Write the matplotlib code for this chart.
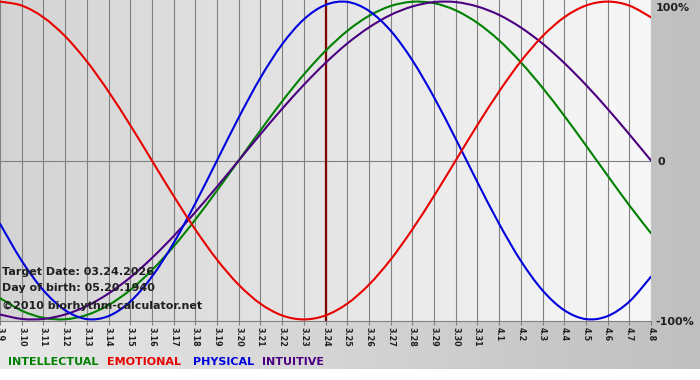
import numpy as np
import matplotlib
matplotlib.use("Agg")
import matplotlib.pyplot as plt
from matplotlib.path import Path
from matplotlib.patches import PathPatch

# ---- data ----
day_labels = ["3.9", "3.10", "3.11", "3.12", "3.13", "3.14", "3.15", "3.16", "3.17", "3.18",
              "3.19", "3.20", "3.21", "3.22", "3.23", "3.24", "3.25", "3.26", "3.27", "3.28",
              "3.29", "3.30", "3.31", "4.1", "4.2", "4.3", "4.4", "4.5", "4.6", "4.7", "4.8"]

physical = [-0.398, -0.631, -0.817, -0.942, -0.998, -0.979, -0.888, -0.731, -0.520, -0.270,
            0.000, 0.270, 0.520, 0.731, 0.888, 0.979, 0.998, 0.942, 0.817, 0.631,
            0.398, 0.136, -0.136, -0.398, -0.631, -0.817, -0.942, -0.998, -0.979, -0.888, -0.731]

emotional = [1.000, 0.975, 0.901, 0.782, 0.624, 0.434, 0.223, 0.000, -0.223, -0.434,
             -0.624, -0.782, -0.901, -0.975, -1.000, -0.975, -0.901, -0.782, -0.624, -0.434,
             -0.223, 0.000, 0.223, 0.434, 0.624, 0.782, 0.901, 0.975, 1.000, 0.975, 0.901]

intellectual = [-0.866, -0.945, -0.990, -0.999, -0.972, -0.910, -0.815, -0.690, -0.541, -0.372,
                -0.189, 0.000, 0.189, 0.372, 0.541, 0.690, 0.815, 0.910, 0.972, 0.999,
                0.990, 0.945, 0.866, 0.756, 0.618, 0.458, 0.282, 0.095, -0.095, -0.282, -0.458]

intuitive = [-0.969, -0.997, -0.997, -0.969, -0.916, -0.837, -0.736, -0.614, -0.476, -0.325,
             -0.165, 0.000, 0.165, 0.325, 0.476, 0.614, 0.736, 0.837, 0.916, 0.969,
             0.997, 0.997, 0.969, 0.916, 0.837, 0.736, 0.614, 0.476, 0.325, 0.165, 0.000]

target_label = "3.24"
series_names = ["INTELLECTUAL", "EMOTIONAL", "PHYSICAL", "INTUITIVE"]
right_labels = ["100%", "0", "-100%"]
info_lines = ["Target Date: 03.24.2026", "Day of birth: 05.20.1940", "\u00a92010 biorhythm-calculator.net"]

# ---- styling ----
C_GREEN = "#008000"
C_RED = "#e80000"
C_BLUE = "#0000dd"
C_PURPLE = "#4b0082"

W, H = 700, 380
fig = plt.figure(figsize=(7, 3.8), dpi=100)

# figure background gradient
bg = fig.add_axes([0, 0, 1, 1], zorder=-10)
gx = np.linspace(0.91, 0.75, W)
img = np.tile(gx, (H, 1))
img[369:, :] = 1.0
bg.imshow(np.dstack([img] * 3), extent=[0, W, H, 0], aspect="auto", interpolation="bilinear")
bg.set_xlim(0, W)
bg.set_ylim(H, 0)
bg.axis("off")

# main plot area
ax_l, ax_r, ax_t, ax_b = 0, 651, 0, 321
ax = fig.add_axes([ax_l / W, (H - ax_b) / H, (ax_r - ax_l) / W, (ax_b - ax_t) / H])
x = np.arange(len(day_labels))
ax.set_xlim(0, len(day_labels) - 1)
ax.set_ylim(-1.01, 1.01)

pg = np.tile(np.linspace(0.83, 0.97, 200), (2, 1))
ax.imshow(np.dstack([pg] * 3), extent=[0, len(day_labels) - 1, -1.01, 1.01],
          aspect="auto", interpolation="bilinear", zorder=0)

for xi in x:
    ax.axvline(xi, color="#808080", lw=0.8, zorder=1)
ax.axhline(0, color="#808080", lw=0.8, zorder=1)
ax.axvline(day_labels.index(target_label), color="#800000", lw=1.6, zorder=2)


def smooth_line(axis, xs, ys, color, lw):
    """Draw a smooth (Catmull-Rom style Bezier) line through the data points."""
    xs = np.asarray(xs, float)
    ys = np.asarray(ys, float)
    pts = np.column_stack([xs, ys])
    n = len(pts)
    verts = [pts[0]]
    codes = [Path.MOVETO]
    for i in range(n - 1):
        p0 = pts[i - 1] if i > 0 else pts[i]
        p1 = pts[i]
        p2 = pts[i + 1]
        p3 = pts[i + 2] if i + 2 < n else pts[i + 1]
        c1 = p1 + (p2 - p0) / 6.0
        c2 = p2 - (p3 - p1) / 6.0
        verts += [c1, c2, p2]
        codes += [Path.CURVE4] * 3
    patch = PathPatch(Path(verts, codes), facecolor="none", edgecolor=color, lw=lw,
                      zorder=3, capstyle="round", joinstyle="round")
    axis.add_patch(patch)


lw = 1.5
smooth_line(ax, x, intellectual, C_GREEN, lw)
smooth_line(ax, x, intuitive, C_PURPLE, lw)
smooth_line(ax, x, physical, C_BLUE, lw)
smooth_line(ax, x, emotional, C_RED, lw)

ax.set_xticks(x)
ax.set_xticklabels(day_labels, rotation=-90, fontsize=5.8, fontweight="bold", color="#202020")
ax.tick_params(axis="x", direction="out", length=3, width=0.8, color="#808080", pad=1.5)
ax.set_yticks([])
for s in ["top", "right", "left"]:
    ax.spines[s].set_visible(False)
ax.spines["bottom"].set_color("#808080")
ax.spines["bottom"].set_linewidth(0.8)

# right-side labels
fs = 8
fig.text(656 / W, 1 - 8 / H, right_labels[0], fontsize=fs, fontweight="bold", color="#202020", va="center", ha="left")
fig.text(658 / W, 1 - 162 / H, right_labels[1], fontsize=fs, fontweight="bold", color="#202020", va="center", ha="left")
fig.text(655 / W, 1 - 322 / H, right_labels[2], fontsize=fs, fontweight="bold", color="#202020", va="center", ha="left")

# info text
for yy, t in zip([272, 288, 306], info_lines):
    fig.text(2 / W, 1 - yy / H, t, fontsize=fs, fontweight="bold", color="#202020", va="center", ha="left")

# legend
for xx, name, c in zip([8, 107, 193, 262], series_names, [C_GREEN, C_RED, C_BLUE, C_PURPLE]):
    fig.text(xx / W, 1 - 362 / H, name, fontsize=fs, fontweight="bold", color=c, va="center", ha="left")

fig.savefig("out.png", dpi=100)
